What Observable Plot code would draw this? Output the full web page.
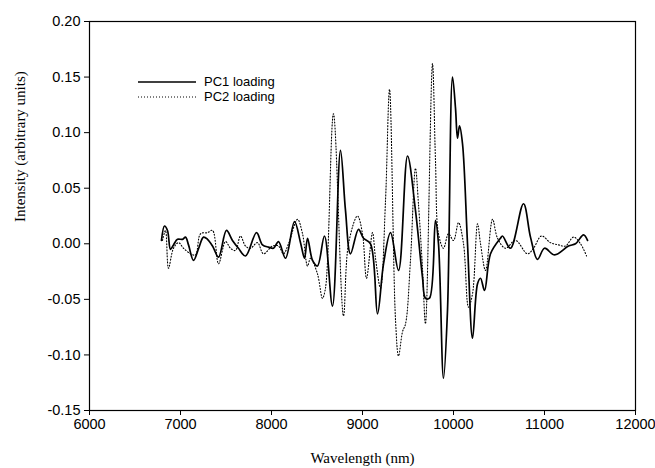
<!DOCTYPE html>
<html>
<head>
<meta charset="utf-8">
<script src="https://cdn.jsdelivr.net/npm/d3@7"></script>
<script src="https://cdn.jsdelivr.net/npm/@observablehq/plot@0.6"></script>
<style>
  html, body { margin: 0; padding: 0; background: #fff; }
  #wrap { position: relative; width: 655px; height: 468px; }
  #legend { position: absolute; left: 138px; top: 74px; font-family: "Liberation Sans", Arial, sans-serif; font-size: 13px; }
  .row { display: flex; align-items: center; height: 15px; }
  .row svg { margin-right: 8px; }
</style>
</head>
<body>
<div id="wrap">
  <div id="chart"></div>
  <div id="legend">
    <div class="row"><svg width="58" height="6"><line x1="0" x2="58" y1="3" y2="3" stroke="#000" stroke-width="1.6"/></svg><span>PC1 loading</span></div>
    <div class="row"><svg width="58" height="6"><line x1="0" x2="58" y1="3" y2="3" stroke="#000" stroke-width="1" stroke-dasharray="1,2"/></svg><span>PC2 loading</span></div>
  </div>
</div>
<script>
const seriesNames = ["PC1 loading", "PC2 loading"];

const pc1Wavelength = [6791, 6824, 6857, 6890, 6923, 6967, 7022, 7055, 7088, 7143, 7200, 7253, 7297, 7352, 7418, 7505, 7571, 7637, 7714, 7835, 7901, 7967, 8022, 8077, 8154, 8253, 8319, 8363, 8396, 8451, 8505, 8582, 8670, 8758, 8813, 8868, 8956, 9011, 9088, 9165, 9231, 9308, 9396, 9495, 9582, 9659, 9692, 9736, 9802, 9835, 9890, 9934, 9989, 10022, 10044, 10066, 10099, 10154, 10209, 10264, 10297, 10341, 10407, 10516, 10538, 10626, 10769, 10846, 10923, 11000, 11110, 11264, 11341, 11429, 11473];
const pc1Value = [0.003, 0.016, 0.012, -0.005, -0.001, 0.004, 0.004, 0.006, -0.001, -0.015, -0.004, 0.006, 0.004, -0.002, -0.012, 0.012, 0.003, -0.004, -0.011, 0.010, -0.001, -0.003, -0.004, 0.002, -0.013, 0.020, 0.001, -0.013, 0.005, -0.015, -0.020, 0.007, -0.056, 0.084, 0.030, -0.009, 0.013, 0.005, 0.000, -0.063, -0.018, 0.010, -0.024, 0.079, 0.030, -0.030, -0.049, -0.049, 0.021, 0.000, -0.121, -0.060, 0.150, 0.122, 0.095, 0.106, 0.090, 0.000, -0.085, -0.036, -0.031, -0.042, -0.009, 0.005, 0.007, -0.004, 0.036, 0.006, -0.014, -0.004, -0.010, -0.002, 0.000, 0.008, 0.003];

const pc2Wavelength = [6802, 6835, 6868, 6923, 6978, 7033, 7110, 7165, 7220, 7297, 7352, 7418, 7495, 7549, 7604, 7659, 7714, 7769, 7846, 7912, 8011, 8077, 8132, 8187, 8286, 8341, 8396, 8429, 8505, 8560, 8593, 8681, 8791, 8846, 8945, 9000, 9044, 9110, 9143, 9198, 9253, 9297, 9363, 9396, 9440, 9473, 9527, 9582, 9615, 9659, 9692, 9769, 9802, 9835, 9890, 9945, 10000, 10055, 10110, 10165, 10209, 10264, 10297, 10352, 10429, 10484, 10571, 10681, 10813, 10879, 10967, 11066, 11154, 11231, 11319, 11396, 11462];
const pc2Value = [0.003, 0.012, -0.022, -0.004, 0.001, -0.004, -0.009, -0.010, 0.009, 0.010, 0.012, -0.018, 0.002, -0.004, -0.006, 0.007, -0.002, -0.004, 0.001, -0.009, -0.002, -0.002, -0.009, 0.000, 0.022, 0.009, -0.020, -0.013, -0.027, -0.049, -0.040, 0.117, -0.065, 0.000, 0.025, 0.009, -0.031, 0.010, -0.013, -0.040, 0.039, 0.139, -0.069, -0.101, -0.079, -0.072, -0.015, 0.068, 0.036, -0.022, -0.072, 0.162, 0.075, 0.009, -0.004, 0.009, 0.003, 0.019, 0.000, -0.057, -0.045, 0.018, 0.000, -0.024, 0.022, 0.005, -0.004, 0.003, -0.009, -0.004, 0.007, 0.001, -0.001, -0.002, 0.006, 0.000, -0.011];

const xTicks = [6000, 7000, 8000, 9000, 10000, 11000, 12000];
const yTicks = [-0.15, -0.10, -0.05, 0.00, 0.05, 0.10, 0.15, 0.20];
const xTickLabels = xTicks.map(d => String(d));
const yTickLabels = yTicks.map(d => d.toFixed(2));

const pc1 = pc1Wavelength.map((w, i) => ({wl: w, v: pc1Value[i], s: seriesNames[0]}));
const pc2 = pc2Wavelength.map((w, i) => ({wl: w, v: pc2Value[i], s: seriesNames[1]}));

const chart = Plot.plot({
  width: 655,
  height: 468,
  marginLeft: 89,
  marginRight: 20,
  marginTop: 21,
  marginBottom: 58,
  style: {fontFamily: "'Liberation Sans', Arial, sans-serif", color: "#000", background: "#fff"},
  x: {domain: [6000, 12000], label: null},
  y: {domain: [-0.15, 0.20], label: null},
  marks: [
    Plot.frame({stroke: "#000", strokeWidth: 1.2}),
    Plot.axisX({ticks: xTicks, tickFormat: d => String(d), tickSize: 5, tickPadding: 3, label: null}),
    Plot.axisY({ticks: yTicks, tickFormat: d => d.toFixed(2), tickSize: 5, tickPadding: 4, label: null}),
    Plot.line(pc2, {x: "wl", y: "v", stroke: "#000", strokeWidth: 1.1, strokeDasharray: "1,2", curve: "catmull-rom"}),
    Plot.line(pc1, {x: "wl", y: "v", stroke: "#000", strokeWidth: 1.7, curve: "catmull-rom"}),
    Plot.text(["Wavelength (nm)"], {frameAnchor: "bottom", dy: 42, text: d => d, fontFamily: "'Liberation Serif', 'Times New Roman', serif", fontSize: 15, lineAnchor: "top"}),
    Plot.text(["Intensity (arbitrary units)"], {frameAnchor: "left", dx: -69, dy: 6, rotate: -90, text: d => d, fontFamily: "'Liberation Serif', 'Times New Roman', serif", fontSize: 15})
  ]
});
// enlarge the tick labels
chart.querySelectorAll("text").forEach(t => {
  const s = t.textContent.trim();
  if (xTickLabels.includes(s) || yTickLabels.includes(s)) {
    t.style.fontSize = "14.5px";
    t.style.fontFamily = "'Liberation Sans', Arial, sans-serif";
  }
});
document.getElementById("chart").appendChild(chart);
</script>
</body>
</html>
